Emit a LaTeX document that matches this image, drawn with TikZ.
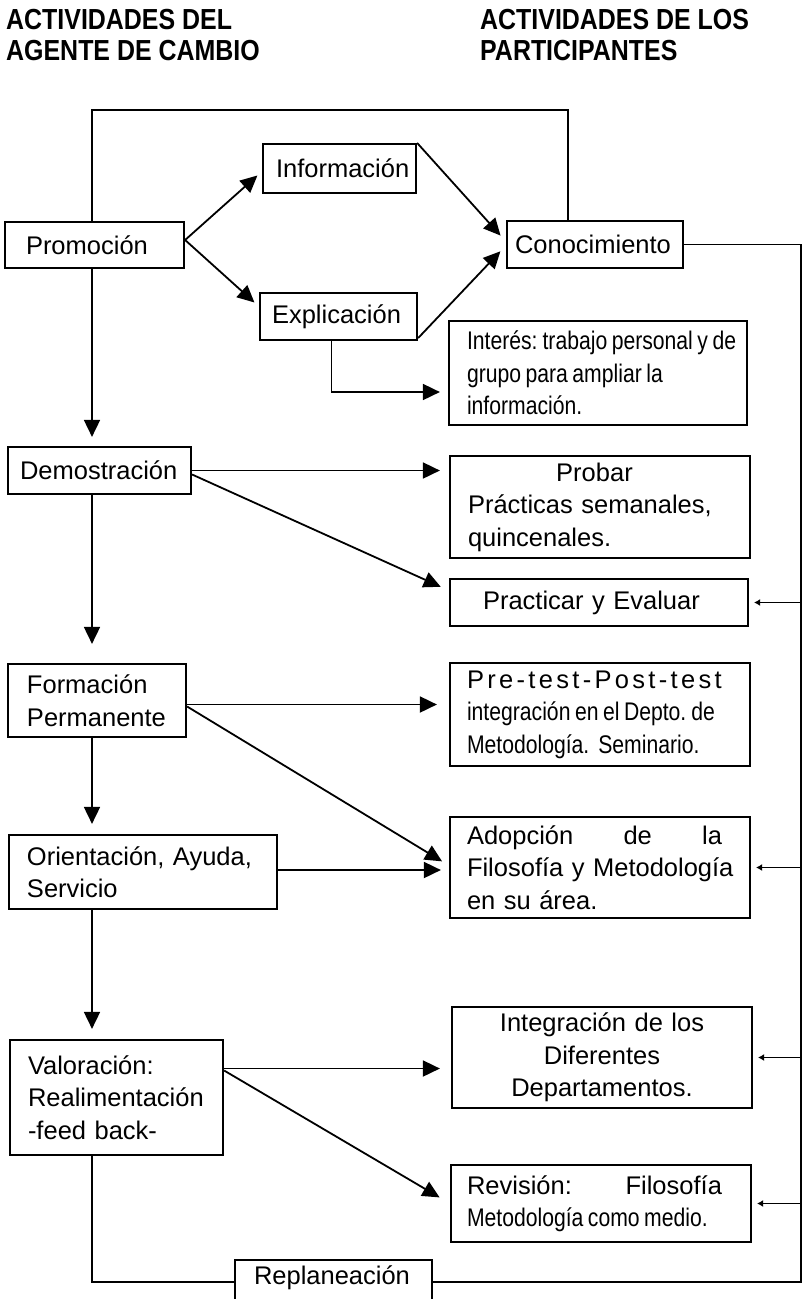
\documentclass[tikz,border=0pt]{standalone}
\usepackage{fontspec}
\setmainfont{Liberation Sans}
\newfontfamily\narrowFont{Liberation Sans}[FakeStretch=0.83]
\newfontfamily\headFont{Liberation Sans}[FakeStretch=0.86]
\newcommand\tightText{\narrowFont\spaceskip=4.5pt plus 1pt\xspaceskip=5pt plus 1pt}
\usetikzlibrary{arrows.meta}
\colorlet{diagramLineColour}{black}

\begin{document}
\begin{tikzpicture}[x=1pt,y=-1pt,
	box/.style={draw=diagramLineColour,line width=2.2pt,inner ysep=0pt,align=left,font=\fontsize{25.5}{32.5}\selectfont},
	link/.style={draw=diagramLineColour,line width=1.8pt},
	arrow/.style={link,-{Triangle[length=17pt,width=16pt]}},
	feedback/.style={draw=diagramLineColour,line width=1.1pt,-{Latex[length=6pt,width=7pt]},shorten >=5pt},
	heading/.style={anchor=north west,inner sep=0pt,align=left,font=\headFont\bfseries\fontsize{29}{31}\selectfont}]
\useasboundingbox (0,0) rectangle (804,1299);

\node[heading] (agente) at (6,9) {ACTIVIDADES DEL\\AGENTE DE CAMBIO};
\node[heading] (participantes) at (480,9) {ACTIVIDADES DE LOS\\PARTICIPANTES};

% agente de cambio
\node[box,minimum width=179pt,minimum height=46pt,inner xsep=21pt,text width=137pt] (promocion) at (94.5,245) {Promoción};
\node[box,minimum width=153pt,minimum height=49pt,inner xsep=13pt,text width=127pt] (informacion) at (339.5,168.5) {\mbox{Información}};
\node[box,minimum width=157pt,minimum height=47pt,inner xsep=12pt,text width=133pt] (explicacion) at (338.5,316.5) {Explicación};
\node[box,minimum width=183pt,minimum height=47pt,inner xsep=12pt,text width=159pt] (demostracion) at (99.5,470.5) {Demostración};
\node[box,minimum width=178pt,minimum height=73pt,inner xsep=19pt,text width=140pt] (formacion) at (97,700.5) {Formación\\ Permanente};
\node[box,minimum width=268pt,minimum height=74pt,inner xsep=18pt,text width=232pt] (orientacion) at (143,872) {Orientación, Ayuda,\\ Servicio};
\node[box,minimum width=213pt,minimum height=115pt,inner xsep=18pt,text width=177pt] (valoracion) at (116.5,1097.5) {Valoración:\\ Realimentación\\ -feed back-};
\node[box,minimum width=197pt,minimum height=44pt,inner xsep=19pt,text width=159pt,text height=18pt,text depth=14pt] (replaneacion) at (333.5,1282) {Replaneación};

% participantes
\node[box,minimum width=176pt,minimum height=47pt,inner xsep=8pt,text width=160pt] (conocimiento) at (595,244.5) {Conocimiento};
\node[box,minimum width=298pt,minimum height=104pt,inner xsep=18pt,text width=262pt] (interes) at (598,373) {\tightText\mbox{Interés: trabajo personal y de}\\ grupo para ampliar la\\ información.};
\node[box,minimum width=300pt,minimum height=102pt,inner xsep=18pt,text width=264pt] (probar) at (600,507) {\makebox[253pt]{Probar}\\ \mbox{Prácticas semanales,}\\ quincenales.};
\node[box,minimum width=298pt,minimum height=47pt,inner xsep=33pt,text width=232pt] (practicar) at (599,602.5) {Practicar y Evaluar};
\node[box,minimum width=300pt,minimum height=103pt,inner xsep=17pt,text width=266pt] (pretest) at (600,714.5) {\mbox{\addfontfeature{LetterSpace=13}Pre-test-Post-test}\\ \tightText\mbox{integración en el Depto. de}\\ \mbox{Metodología.\ \ Seminario.}};
\node[box,minimum width=300pt,minimum height=101pt,inner xsep=17pt,text width=266pt] (adopcion) at (600,867.5) {\hbox to 255pt{Adopción\hfill de\hfill la}\\ \mbox{Filosofía y Metodología}\\ en su área.};
\node[box,minimum width=300pt,minimum height=101pt,inner xsep=10pt,text width=280pt,align=center] (integracion) at (602,1057.5) {Integración de los\\ Diferentes\\ Departamentos.};
\node[box,minimum width=300pt,minimum height=77pt,inner xsep=16pt,text width=268pt] (revision) at (601,1203.5) {\hbox to 255pt{Revisión:\hfill Filosofía}\\ \mbox{\tightText Metodología como medio.}};

\coordinate (spine) at (92,0);
\coordinate (loop) at (568,110);
\coordinate (bus) at (801,1282);

% lazo superior
\draw[link] (promocion.north -| spine) |- (loop) -- (loop |- conocimiento.north);
\draw[arrow,shorten >=6pt] ([yshift=5pt]promocion.east) -- ([yshift=-3pt]informacion.west);
\draw[arrow,shorten >=6pt] ([yshift=5pt]promocion.east) -- ([yshift=10pt]explicacion.west);
\draw[arrow,shorten >=8pt] (informacion.north east) -- ([yshift=3pt]conocimiento.west);
\draw[arrow,shorten >=8pt] ([yshift=3pt]explicacion.south east) -- ([yshift=-1pt]conocimiento.west);
\draw[arrow,shorten >=8pt] ([xshift=-7pt]explicacion.south) |- ([yshift=-19pt]interes.west);

% columna izquierda
\foreach \a/\b/\s in {promocion/demostracion/9,demostracion/formacion/19,formacion/orientacion/10,orientacion/valoracion/10}
{%
	\draw[arrow,shorten >=\s pt] (\a.south -| spine) -- (\b.north -| spine);
}%

\draw[arrow,shorten >=9pt] (demostracion.east) -- (demostracion.east -| probar.west);
\draw[arrow,shorten >=9pt] ([yshift=-4pt]demostracion.east) -- ([yshift=12pt]practicar.west);
\draw[arrow,shorten >=12pt] ([yshift=-4pt]formacion.east) -- ([yshift=-4pt]formacion.east -| pretest.west);
\draw[arrow,shorten >=8pt] ([yshift=-6pt]formacion.east) -- ([yshift=2pt]adopcion.west);
\draw[arrow,shorten >=8pt] ([yshift=2pt]orientacion.east) -- ([yshift=2pt]orientacion.east -| adopcion.west);
\draw[arrow,shorten >=11pt] ([yshift=29pt]valoracion.east) -- ([yshift=29pt]valoracion.east -| integracion.west);
\draw[arrow,shorten >=12pt] ([yshift=27pt]valoracion.east) -- (revision.west);

% replaneacion y retorno
\draw[link] (valoracion.south -| spine) |- (replaneacion.west);
\draw[link] (replaneacion.east) -- (bus) |- (conocimiento.east);
\foreach \n in {practicar,adopcion,integracion,revision}
	\draw[feedback] (\n.east -| bus) -- (\n.east);
\end{tikzpicture}
\end{document}
